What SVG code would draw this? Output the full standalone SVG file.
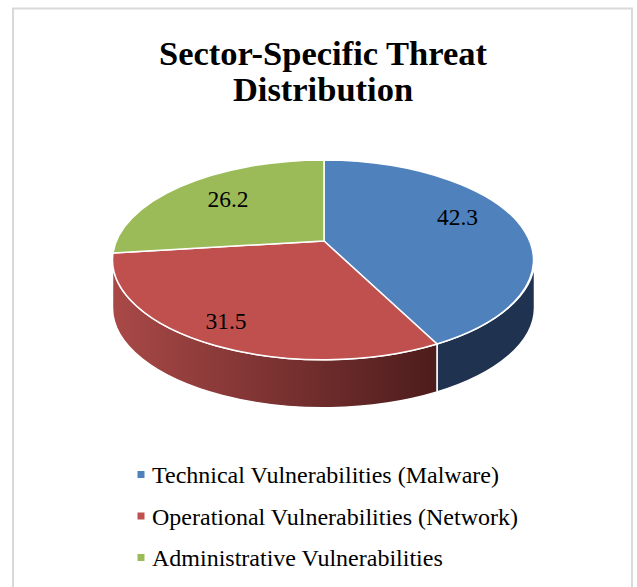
<svg xmlns="http://www.w3.org/2000/svg" width="637" height="587" viewBox="0 0 637 587">
<style>
.title{font-family:"Liberation Serif","Times New Roman",serif;font-weight:bold;font-size:34.5px;fill:#000}
.lbl{font-family:"Liberation Serif","Times New Roman",serif;font-size:23.5px;fill:#000}
.leg{font-family:"Liberation Serif","Times New Roman",serif;font-size:24px;fill:#000}
.edge{stroke:#fff;stroke-width:1.5;stroke-linejoin:round}
</style>
<defs>
<linearGradient id="redSide" x1="112" y1="0" x2="437" y2="0" gradientUnits="userSpaceOnUse">
<stop offset="0" stop-color="#a94947"/>
<stop offset="1" stop-color="#4d1c1c"/>
</linearGradient>
</defs>
<rect x="0" y="0" width="637" height="587" fill="#fff"/>
<path d="M13 600 L13 8.5 L632 8.5 L632 600" fill="none" stroke="#d9d9d9" stroke-width="2"/>
<g id="title">
<text class="title" x="323" y="65" text-anchor="middle">Sector-Specific Threat</text>
<text class="title" x="323" y="101" text-anchor="middle">Distribution</text>
</g>
<g id="pie">
<g id="side-technical">
<path class="edge" fill="#1f3350" d="M437 344 A211 100 0 0 0 534.5 260 L534.5 308 A211 100 0 0 1 437 392 Z"/>
</g>
<g id="side-operational">
<path class="edge" fill="url(#redSide)" d="M112.5 260 A211 100 0 0 0 437 344 L437 392 A211 100 0 0 1 112.5 308 Z"/>
</g>
<g id="slice-technical">
<path class="edge" fill="#4f81bd" d="M324 241 L324 160 A211 100 0 0 1 437 344 Z"/>
<text class="lbl" x="457.5" y="225" text-anchor="middle">42.3</text>
</g>
<g id="slice-operational">
<path class="edge" fill="#c0504d" d="M324 241 L437 344 A211 100 0 0 1 113 253 Z"/>
<text class="lbl" x="226" y="329" text-anchor="middle">31.5</text>
</g>
<g id="slice-administrative">
<path class="edge" fill="#9bbb59" d="M324 241 L113 253 A211 100 0 0 1 324 160 Z"/>
<text class="lbl" x="228" y="207" text-anchor="middle">26.2</text>
</g>
</g>
<g id="legend">
<g id="leg-technical">
<rect x="137.5" y="471" width="7" height="7" fill="#4f81bd"/>
<text class="leg" x="152" y="483">Technical Vulnerabilities (Malware)</text>
</g>
<g id="leg-operational">
<rect x="137.5" y="512.5" width="7" height="7" fill="#c0504d"/>
<text class="leg" x="152" y="524.5">Operational Vulnerabilities (Network)</text>
</g>
<g id="leg-administrative">
<rect x="137.5" y="554" width="7" height="7" fill="#9bbb59"/>
<text class="leg" x="152" y="566">Administrative Vulnerabilities</text>
</g>
</g>
</svg>
